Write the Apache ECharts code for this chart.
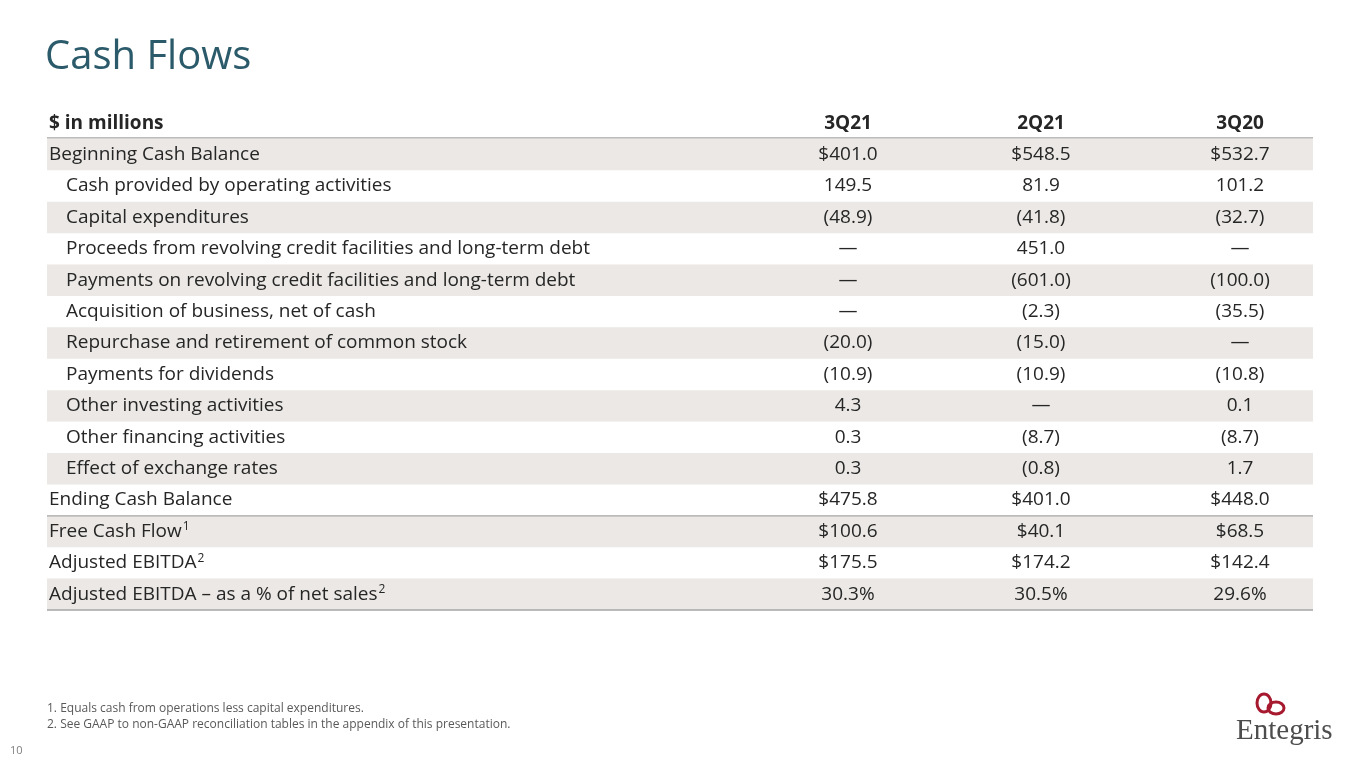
<!DOCTYPE html>
<html>
<head>
<meta charset="utf-8">
<script src="https://cdn.jsdelivr.net/npm/echarts@6/dist/echarts.min.js"></script>
<style>
  html, body { margin: 0; padding: 0; background: #fff; }
  #chart { width: 1365px; height: 768px; }
</style>
</head>
<body>
<div id="chart"></div>
<script>
var headers = ['$ in millions', '3Q21', '2Q21', '3Q20'];
var labels = [
  'Beginning Cash Balance',
  'Cash provided by operating activities',
  'Capital expenditures',
  'Proceeds from revolving credit facilities and long-term debt',
  'Payments on revolving credit facilities and long-term debt',
  'Acquisition of business, net of cash',
  'Repurchase and retirement of common stock',
  'Payments for dividends',
  'Other investing activities',
  'Other financing activities',
  'Effect of exchange rates',
  'Ending Cash Balance',
  'Free Cash Flow',
  'Adjusted EBITDA',
  'Adjusted EBITDA \u2013 as a % of net sales'
];
var notes = ['', '', '', '', '', '', '', '', '', '', '', '', '1', '2', '2'];
var indented = [0, 1, 1, 1, 1, 1, 1, 1, 1, 1, 1, 0, 0, 0, 0];
var q321 = ['$401.0', '149.5', '(48.9)', '\u2014', '\u2014', '\u2014', '(20.0)', '(10.9)', '4.3', '0.3', '0.3', '$475.8', '$100.6', '$175.5', '30.3%'];
var q221 = ['$548.5', '81.9', '(41.8)', '451.0', '(601.0)', '(2.3)', '(15.0)', '(10.9)', '\u2014', '(8.7)', '(0.8)', '$401.0', '$40.1', '$174.2', '30.5%'];
var q320 = ['$532.7', '101.2', '(32.7)', '\u2014', '(100.0)', '(35.5)', '\u2014', '(10.8)', '0.1', '(8.7)', '1.7', '$448.0', '$68.5', '$142.4', '29.6%'];

var rows = ['header'].concat(labels);
var colX = [2, 801, 994, 1193]; // positions on x value axis (0..1266)
var font = '"Open Sans", sans-serif';
var ink = '#262626';

var chart = echarts.init(document.getElementById('chart'));

function renderRow(params, api) {
  var r = api.value(0);
  var c = api.coord([0, r]);
  var size = api.size([0, 1]);
  var h = size[1];
  var x0 = params.coordSys.x, w = params.coordSys.width;
  var top = c[1] - h / 2;
  var kids = [];
  var txt = function (x, t, align, bold, rich) {
    return {
      type: 'text',
      style: {
        x: x, y: c[1], text: t, align: align, verticalAlign: 'middle',
        fill: ink, font: (bold ? 'bold ' : '') + '19px ' + font,
        rich: rich
      }
    };
  };
  if (r === 0) {
    kids.push(txt(api.coord([colX[0], 0])[0], headers[0], 'left', true));
    for (var k = 1; k < 4; k++) kids.push(txt(api.coord([colX[k], 0])[0], headers[k], 'center', true));
    kids.push({ type: 'line', shape: { x1: x0, y1: top + h - 1, x2: x0 + w, y2: top + h - 1 }, style: { stroke: '#a6a6a6', lineWidth: 1.3 } });
    return { type: 'group', children: kids };
  }
  var i = r - 1;
  if (i % 2 === 0) {
    kids.push({ type: 'rect', shape: { x: x0, y: top, width: w, height: h }, style: { fill: '#ebe8e5' } });
  }
  var lx = api.coord([colX[0] + (indented[i] ? 17 : 0), 0])[0];
  var label = notes[i] ? labels[i] + '{s|' + notes[i] + '}' : labels[i];
  kids.push(txt(lx, label, 'left', false, { s: { fontSize: 12, fontFamily: font, fill: ink, padding: [0, 0, 9, 1] } }));
  var vals = [q321[i], q221[i], q320[i]];
  for (var j = 0; j < 3; j++) kids.push(txt(api.coord([colX[j + 1], 0])[0], vals[j], 'center', false));
  if (i === 12) {
    kids.push({ type: 'line', shape: { x1: x0, y1: top, x2: x0 + w, y2: top }, style: { stroke: '#a6a6a6', lineWidth: 1.3 } });
  }
  if (i === labels.length - 1) {
    kids.push({ type: 'line', shape: { x1: x0, y1: top + h, x2: x0 + w, y2: top + h }, style: { stroke: '#a6a6a6', lineWidth: 1.3 } });
  }
  return { type: 'group', children: kids };
}

chart.setOption({
  animation: false,
  grid: { left: 47, right: 52, top: 107.5, bottom: 158 },
  xAxis: { type: 'value', min: 0, max: 1266, show: false },
  yAxis: { type: 'category', data: rows, inverse: true, show: false },
  series: [{
    type: 'custom',
    renderItem: renderRow,
    data: rows.map(function (r, idx) { return [idx]; })
  }],
  graphic: [
    { type: 'text', left: 45, top: 38, style: { text: 'Cash Flows', font: '40px ' + font, fill: '#2b5a6a' } },
    { type: 'text', left: 47, top: 703, style: { text: '1. Equals cash from operations less capital expenditures.', font: '12px ' + font, fill: '#595959' } },
    { type: 'text', left: 47, top: 719, style: { text: '2. See GAAP to non-GAAP reconciliation tables in the appendix of this presentation.', font: '12px ' + font, fill: '#595959' } },
    { type: 'text', left: 10, top: 745, style: { text: '10', font: '11px ' + font, fill: '#7f7f7f' } },
    { type: 'ellipse', shape: { cx: 1264, cy: 703, rx: 7, ry: 9 }, style: { fill: 'none', stroke: '#a6192e', lineWidth: 3 } },
    { type: 'ellipse', shape: { cx: 1276, cy: 708, rx: 8, ry: 6 }, style: { fill: 'none', stroke: '#a6192e', lineWidth: 3 } },
    { type: 'text', left: 1236, top: 717, style: { text: 'Entegris', font: '29px "Liberation Serif", serif', fill: '#4d4d4d' } }
  ]
});
</script>
</body>
</html>
